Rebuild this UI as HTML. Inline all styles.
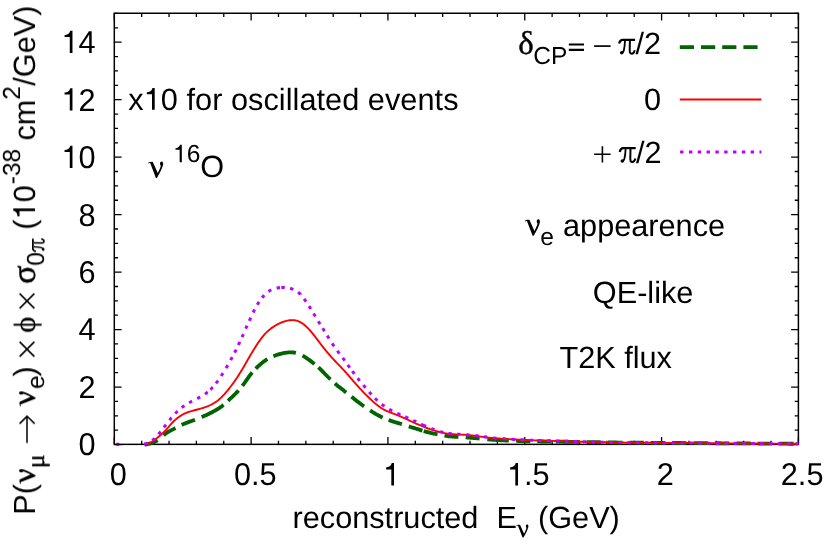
<!DOCTYPE html>
<html><head><meta charset="utf-8"><title>chart</title>
<style>
html,body{margin:0;padding:0;background:#fff;}
body{width:830px;height:548px;overflow:hidden;font-family:"Liberation Sans", sans-serif;}
svg{display:block;}
svg text{text-rendering:geometricPrecision;font-kerning:none;}
</style></head>
<body>
<svg width="830" height="548" viewBox="0 0 830 548">
<rect x="0" y="0" width="830" height="548" fill="#fff"/>
<defs>
<path id="nu" d="M-0.1,-14.6 L1.7,-15.5 L4.5,-15.6 L9.6,-4.4 C10.6,-6.3 11.8,-9 12.6,-11.5 C12.0,-12.2 11.8,-13.2 11.8,-14.0 C11.8,-15.2 12.5,-16.0 13.5,-16.0 C14.5,-16.0 15.1,-15.0 15.0,-13.6 C14.8,-10.5 12,-5 8.8,0.5 L7.7,0.5 L2.0,-14.3 C1.3,-14.5 0.6,-14.3 0.1,-13.9 Z" fill="#000"/>
<g id="pi" fill="none" stroke="#000"><path d="M0.3,-10.7 C0.9,-13.2 2.0,-14.4 3.8,-14.4 L16.3,-14.4" stroke-width="2.2"/><path d="M6.2,-13.5 C6.0,-9 5.6,-6 5.0,-3.8 C4.6,-2.3 4.0,-1.6 3.0,-1.3" stroke-width="1.8"/><circle cx="2.9" cy="-1.5" r="1.75" fill="#000" stroke="none"/><path d="M11.1,-13.5 L10.9,-4.5 C10.8,-1.5 11.5,-0.5 12.9,-0.5 C14.3,-0.5 15.4,-1.8 16.0,-4.0" stroke-width="2.0"/></g>
<path id="one" d="M359,0 L271,0 L271,505 L101,505 L101,568 C190,575 262,612 286,709 L359,709 Z" fill="#000"/>
</defs>
<path d="M114.30,444.35 v-7.3 M114.30,13.25 v7.3 M141.66,444.35 v-3.7 M141.66,13.25 v3.7 M169.03,444.35 v-3.7 M169.03,13.25 v3.7 M196.39,444.35 v-3.7 M196.39,13.25 v3.7 M223.76,444.35 v-3.7 M223.76,13.25 v3.7 M251.12,444.35 v-7.3 M251.12,13.25 v7.3 M278.48,444.35 v-3.7 M278.48,13.25 v3.7 M305.85,444.35 v-3.7 M305.85,13.25 v3.7 M333.21,444.35 v-3.7 M333.21,13.25 v3.7 M360.58,444.35 v-3.7 M360.58,13.25 v3.7 M387.94,444.35 v-7.3 M387.94,13.25 v7.3 M415.30,444.35 v-3.7 M415.30,13.25 v3.7 M442.67,444.35 v-3.7 M442.67,13.25 v3.7 M470.03,444.35 v-3.7 M470.03,13.25 v3.7 M497.40,444.35 v-3.7 M497.40,13.25 v3.7 M524.76,444.35 v-7.3 M524.76,13.25 v7.3 M552.12,444.35 v-3.7 M552.12,13.25 v3.7 M579.49,444.35 v-3.7 M579.49,13.25 v3.7 M606.85,444.35 v-3.7 M606.85,13.25 v3.7 M634.22,444.35 v-3.7 M634.22,13.25 v3.7 M661.58,444.35 v-7.3 M661.58,13.25 v7.3 M688.94,444.35 v-3.7 M688.94,13.25 v3.7 M716.31,444.35 v-3.7 M716.31,13.25 v3.7 M743.67,444.35 v-3.7 M743.67,13.25 v3.7 M771.04,444.35 v-3.7 M771.04,13.25 v3.7 M798.40,444.35 v-7.3 M798.40,13.25 v7.3 M114.3,444.55 h7.3 M798.4,444.55 h-7.3 M114.3,430.18 h3.7 M798.4,430.18 h-3.7 M114.3,415.81 h3.7 M798.4,415.81 h-3.7 M114.3,401.44 h3.7 M798.4,401.44 h-3.7 M114.3,387.07 h7.3 M798.4,387.07 h-7.3 M114.3,372.70 h3.7 M798.4,372.70 h-3.7 M114.3,358.33 h3.7 M798.4,358.33 h-3.7 M114.3,343.96 h3.7 M798.4,343.96 h-3.7 M114.3,329.59 h7.3 M798.4,329.59 h-7.3 M114.3,315.22 h3.7 M798.4,315.22 h-3.7 M114.3,300.85 h3.7 M798.4,300.85 h-3.7 M114.3,286.48 h3.7 M798.4,286.48 h-3.7 M114.3,272.11 h7.3 M798.4,272.11 h-7.3 M114.3,257.74 h3.7 M798.4,257.74 h-3.7 M114.3,243.37 h3.7 M798.4,243.37 h-3.7 M114.3,229.00 h3.7 M798.4,229.00 h-3.7 M114.3,214.63 h7.3 M798.4,214.63 h-7.3 M114.3,200.26 h3.7 M798.4,200.26 h-3.7 M114.3,185.89 h3.7 M798.4,185.89 h-3.7 M114.3,171.52 h3.7 M798.4,171.52 h-3.7 M114.3,157.15 h7.3 M798.4,157.15 h-7.3 M114.3,142.78 h3.7 M798.4,142.78 h-3.7 M114.3,128.41 h3.7 M798.4,128.41 h-3.7 M114.3,114.04 h3.7 M798.4,114.04 h-3.7 M114.3,99.67 h7.3 M798.4,99.67 h-7.3 M114.3,85.30 h3.7 M798.4,85.30 h-3.7 M114.3,70.93 h3.7 M798.4,70.93 h-3.7 M114.3,56.56 h3.7 M798.4,56.56 h-3.7 M114.3,42.19 h7.3 M798.4,42.19 h-7.3 M114.3,27.82 h3.7 M798.4,27.82 h-3.7 M114.3,13.45 h3.7 M798.4,13.45 h-3.7" stroke="#000" stroke-width="1.3" fill="none"/>
<rect x="114.3" y="13.25" width="684.1" height="431.1" fill="none" stroke="#000" stroke-width="1.5"/>
<path d="M144.6,444.64 L145.5,444.53 L146.5,444.38 L147.5,444.18 L148.5,443.95 L149.5,443.70 L150.5,443.41 L151.5,443.10 L152.5,442.75 L153.5,442.37 L154.5,441.93 L155.5,441.43 L156.5,440.85 L157.5,440.20 M163.5,435.30 L164.5,434.48 L165.5,433.71 L166.5,433.00 L167.5,432.34 L168.5,431.73 L169.5,431.16 L170.5,430.62 L171.5,430.10 L172.5,429.58 L173.5,429.08 L174.5,428.57 L175.5,428.06 M181.7,424.91 L182.5,424.54 L183.5,424.10 L184.5,423.67 L185.5,423.27 L186.5,422.88 L187.5,422.51 L188.5,422.14 L189.5,421.77 L190.5,421.41 L191.5,421.05 L192.5,420.69 L193.5,420.32 L194.5,419.95 L195.0,419.76 M201.6,417.10 L202.5,416.72 L203.5,416.30 L204.5,415.87 L205.5,415.42 L206.5,414.97 L207.5,414.51 L208.5,414.03 L209.5,413.54 L210.5,413.03 L211.5,412.52 L212.5,411.99 L213.5,411.45 L214.5,410.89 L215.5,410.32 L216.5,409.74 L217.5,409.14 L218.5,408.52 L219.5,407.87 L220.5,407.18 L221.5,406.44 L222.5,405.65 L223.5,404.81 M228.0,400.76 L228.5,400.30 L229.5,399.37 L230.5,398.45 L231.5,397.54 L232.5,396.62 L233.5,395.68 L234.5,394.72 L235.5,393.72 L236.5,392.69 L237.5,391.62 L238.5,390.52 M242.4,385.84 L242.5,385.71 L243.5,384.37 L244.5,382.99 L245.5,381.58 L246.5,380.15 L247.5,378.73 L248.5,377.32 L249.5,375.94 L250.5,374.61 L251.5,373.33 L252.2,372.50 M255.7,368.70 L256.5,367.90 L257.5,366.93 L258.5,365.99 L259.5,365.08 L260.5,364.20 L261.5,363.35 L262.5,362.53 L263.5,361.76 L264.5,361.02 L265.5,360.33 L266.5,359.69 L267.4,359.15 M273.4,356.26 L273.5,356.22 L274.5,355.81 L275.5,355.43 L276.5,355.06 L277.5,354.71 L278.5,354.38 L279.5,354.08 L280.5,353.80 L281.5,353.55 L282.5,353.32 L283.5,353.12 L284.5,352.94 L285.5,352.79 L286.5,352.66 L287.5,352.56 L288.5,352.48 L289.5,352.42 L290.5,352.39 L291.5,352.38 L292.5,352.41 L293.5,352.48 L294.5,352.60 L295.5,352.77 L295.9,352.86 M302.5,355.53 L303.5,356.12 L304.5,356.75 L305.5,357.39 L306.5,358.05 L307.5,358.73 L308.5,359.44 L309.5,360.15 L310.5,360.88 L311.5,361.63 L312.5,362.39 L313.5,363.17 L314.5,363.97 M318.4,367.38 L318.5,367.47 L319.5,368.42 L320.5,369.39 L321.5,370.39 L322.5,371.40 L323.5,372.42 L324.5,373.45 L325.5,374.48 L326.5,375.51 L327.5,376.52 L328.5,377.53 L329.5,378.51 L330.4,379.38 M334.9,383.48 L335.5,384.00 L336.5,384.85 L337.5,385.67 L338.5,386.47 L339.5,387.26 L340.5,388.04 L341.5,388.82 L342.5,389.59 L343.5,390.37 L344.5,391.15 L345.5,391.93 L346.2,392.48 M351.5,396.73 L352.5,397.53 L353.5,398.34 L354.5,399.15 L355.5,399.95 L356.5,400.75 L357.5,401.54 L358.5,402.32 L359.5,403.08 L360.5,403.83 L361.5,404.57 L362.5,405.29 L363.5,405.99 L364.1,406.41 M370.1,410.45 L370.5,410.71 L371.5,411.36 L372.5,412.00 L373.5,412.62 L374.5,413.23 L375.5,413.83 L376.5,414.40 L377.5,414.96 L378.5,415.50 L379.5,416.02 L380.5,416.53 L381.5,417.01 L382.5,417.48 L382.7,417.57 M388.6,419.99 L389.5,420.31 L390.5,420.66 L391.5,421.00 L392.5,421.33 L393.5,421.65 L394.5,421.96 L395.5,422.27 L396.5,422.57 L397.5,422.87 L398.5,423.18 L399.5,423.48 L400.5,423.79 L401.5,424.10 L401.9,424.23 M408.8,426.43 L409.5,426.65 L410.5,426.96 L411.5,427.26 L412.5,427.56 L413.5,427.86 L414.5,428.17 L415.5,428.48 L416.5,428.79 L417.5,429.11 L418.5,429.43 L419.5,429.75 L420.5,430.07 L421.5,430.38 L422.4,430.66 M423.7,431.05 L424.5,431.29 L425.5,431.57 L426.5,431.84 L427.5,432.11 L428.5,432.36 L429.5,432.61 L430.5,432.84 L431.5,433.08 L432.5,433.30 L433.5,433.52 L434.5,433.73 L435.5,433.94 L436.5,434.14 L437.5,434.34 M444.5,435.66 L445.5,435.82 L446.5,435.97 L447.5,436.12 L448.5,436.24 L449.5,436.36 L450.5,436.46 L451.5,436.55 L452.5,436.63 L453.5,436.70 L454.5,436.77 L455.5,436.83 L456.5,436.89 L457.5,436.94 L458.4,436.99 M465.7,437.41 L466.5,437.48 L467.5,437.56 L468.5,437.64 L469.5,437.73 L470.5,437.81 L471.5,437.90 L472.5,437.98 L473.5,438.06 L474.5,438.14 L475.5,438.22 L476.5,438.29 L477.5,438.37 L478.5,438.45 L479.5,438.53 L479.6,438.54 M487.3,439.32 L487.5,439.34 L488.5,439.44 L489.5,439.53 L490.5,439.62 L491.5,439.70 L492.5,439.77 L493.5,439.84 L494.5,439.91 L495.5,439.97 L496.5,440.03 L497.5,440.09 L498.5,440.15 L499.5,440.21 L500.5,440.26 L501.5,440.31 L502.5,440.37 L503.5,440.41 L504.5,440.46 L505.5,440.51 L506.5,440.55 L507.5,440.59 L508.5,440.64 L508.8,440.65 M516.1,440.92 L516.5,440.93 L517.5,440.97 L518.5,441.00 L519.5,441.03 L520.5,441.06 L521.5,441.09 L522.5,441.12 L523.5,441.14 L524.5,441.17 L525.5,441.20 L526.5,441.22 L527.5,441.24 L528.5,441.27 L529.5,441.29 L530.3,441.30 M537.2,441.43 L537.5,441.43 L538.5,441.45 L539.5,441.46 L540.5,441.48 L541.5,441.49 L542.5,441.50 L543.5,441.52 L544.5,441.53 L545.5,441.54 L546.5,441.56 L547.5,441.57 L548.5,441.58 L549.5,441.59 L550.5,441.60 L551.1,441.61 M555.8,441.66 L556.5,441.67 L557.5,441.68 L558.5,441.69 L559.5,441.70 L560.5,441.70 L561.5,441.71 L562.5,441.72 L563.5,441.73 L564.5,441.74 L565.5,441.75 L566.5,441.76 L567.5,441.77 L568.5,441.78 L569.5,441.80 L570.5,441.81 L571.5,441.82 L572.5,441.83 L573.5,441.85 L574.5,441.86 L575.5,441.87 L576.5,441.89 L577.5,441.90 L578.5,441.92 L579.5,441.93 L579.6,441.93 M586.5,442.04 L587.5,442.05 L588.5,442.07 L589.5,442.09 L590.5,442.10 L591.5,442.12 L592.5,442.14 L593.5,442.15 L594.5,442.17 L595.5,442.19 L596.5,442.21 L597.5,442.23 L598.5,442.25 L599.5,442.26 L600.5,442.28 L601.0,442.29 M607.9,442.41 L608.5,442.42 L609.5,442.43 L610.5,442.45 L611.5,442.46 L612.5,442.47 L613.5,442.49 L614.5,442.50 L615.5,442.51 L616.5,442.52 L617.5,442.53 L618.5,442.54 L619.5,442.55 L620.5,442.56 L621.5,442.57 L622.4,442.58 M629.3,442.64 L629.5,442.65 L630.5,442.65 L631.5,442.66 L632.5,442.67 L633.5,442.68 L634.5,442.69 L635.5,442.70 L636.5,442.70 L637.5,442.71 L638.5,442.72 L639.5,442.73 L640.5,442.74 L641.5,442.74 L642.5,442.75 L643.5,442.76 L643.8,442.76 M650.7,442.81 L651.5,442.81 L652.5,442.82 L653.5,442.83 L654.5,442.83 L655.5,442.84 L656.5,442.85 L657.5,442.85 L658.5,442.86 L659.5,442.87 L660.5,442.87 L661.5,442.88 L662.5,442.89 L663.5,442.89 L664.5,442.90 L665.2,442.90 M672.1,442.95 L672.5,442.95 L673.5,442.96 L674.5,442.96 L675.5,442.97 L676.5,442.98 L677.5,442.98 L678.5,442.99 L679.5,443.00 L680.5,443.00 L681.5,443.01 L682.5,443.02 L683.5,443.02 L684.5,443.03 L685.5,443.04 L686.5,443.04 L686.6,443.04 M693.5,443.09 L693.5,443.09 L694.5,443.10 L695.5,443.10 L696.5,443.11 L697.5,443.12 L698.5,443.12 L699.5,443.13 L700.5,443.14 L701.5,443.14 L702.5,443.15 L703.5,443.16 L704.5,443.16 L705.5,443.17 L706.5,443.18 L707.5,443.18 L708.0,443.19 M714.9,443.23 L715.5,443.24 L716.5,443.24 L717.5,443.25 L718.5,443.26 L719.5,443.26 L720.5,443.27 L721.5,443.28 L722.5,443.28 L723.5,443.29 L724.5,443.30 L725.5,443.30 L726.5,443.31 L727.5,443.32 L728.5,443.32 L729.4,443.33 M736.3,443.38 L736.5,443.38 L737.5,443.38 L738.5,443.39 L739.5,443.40 L740.5,443.40 L741.5,443.41 L742.5,443.42 L743.5,443.42 L744.5,443.43 L745.5,443.44 L746.5,443.44 L747.5,443.45 L748.5,443.46 L749.5,443.46 L750.5,443.47 L750.8,443.47 M757.7,443.52 L758.5,443.53 L759.5,443.53 L760.5,443.54 L761.5,443.55 L762.5,443.55 L763.5,443.56 L764.5,443.57 L765.5,443.57 L766.5,443.58 L767.5,443.59 L768.5,443.59 L769.5,443.60 L770.5,443.61 L771.5,443.61 L772.2,443.62 M779.1,443.67 L779.5,443.67 L780.5,443.68 L781.5,443.68 L782.5,443.69 L783.5,443.70 L784.5,443.70 L785.5,443.71 L786.5,443.72 L787.5,443.72 L788.5,443.73 L789.5,443.74 L790.5,443.75 L791.5,443.75 L792.5,443.76 L793.5,443.77 L793.6,443.77" fill="none" stroke="#006400" stroke-width="3.8" stroke-linejoin="round"/>
<path d="M145.5,444.12 L146.5,443.96 L147.5,443.72 L148.5,443.41 L149.5,443.01 L150.5,442.52 L151.5,441.98 L152.5,441.37 L153.5,440.70 L154.5,439.99 L155.5,439.23 L156.5,438.44 L157.5,437.64 L158.5,436.83 L159.5,436.00 L160.5,435.16 L161.5,434.30 L162.5,433.41 L163.5,432.47 L164.5,431.47 L165.5,430.42 L166.5,429.32 L167.5,428.19 L168.5,427.04 L169.5,425.89 L170.5,424.73 L171.5,423.60 L172.5,422.51 L173.5,421.48 L174.5,420.52 L175.5,419.62 L176.5,418.78 L177.5,417.98 L178.5,417.23 L179.5,416.53 L180.5,415.87 L181.5,415.25 L182.5,414.68 L183.5,414.14 L184.5,413.64 L185.5,413.18 L186.5,412.76 L187.5,412.37 L188.5,412.01 L189.5,411.68 L190.5,411.37 L191.5,411.08 L192.5,410.80 L193.5,410.53 L194.5,410.26 L195.5,410.00 L196.5,409.74 L197.5,409.48 L198.5,409.21 L199.5,408.94 L200.5,408.67 L201.5,408.38 L202.5,408.08 L203.5,407.77 L204.5,407.44 L205.5,407.09 L206.5,406.72 L207.5,406.32 L208.5,405.91 L209.5,405.47 L210.5,405.00 L211.5,404.50 L212.5,403.96 L213.5,403.39 L214.5,402.79 L215.5,402.14 L216.5,401.45 L217.5,400.71 L218.5,399.91 L219.5,399.06 L220.5,398.16 L221.5,397.20 L222.5,396.20 L223.5,395.15 L224.5,394.06 L225.5,392.92 L226.5,391.75 L227.5,390.55 L228.5,389.32 L229.5,388.06 L230.5,386.78 L231.5,385.46 L232.5,384.12 L233.5,382.74 L234.5,381.34 L235.5,379.90 L236.5,378.43 L237.5,376.93 L238.5,375.39 L239.5,373.82 L240.5,372.22 L241.5,370.58 L242.5,368.92 L243.5,367.22 L244.5,365.50 L245.5,363.76 L246.5,362.01 L247.5,360.26 L248.5,358.52 L249.5,356.78 L250.5,355.05 L251.5,353.36 L252.5,351.69 L253.5,350.06 L254.5,348.46 L255.5,346.88 L256.5,345.32 L257.5,343.79 L258.5,342.30 L259.5,340.85 L260.5,339.45 L261.5,338.11 L262.5,336.82 L263.5,335.60 L264.5,334.45 L265.5,333.37 L266.5,332.35 L267.5,331.41 L268.5,330.51 L269.5,329.67 L270.5,328.87 L271.5,328.11 L272.5,327.39 L273.5,326.71 L274.5,326.08 L275.5,325.47 L276.5,324.91 L277.5,324.37 L278.5,323.86 L279.5,323.38 L280.5,322.92 L281.5,322.50 L282.5,322.10 L283.5,321.74 L284.5,321.41 L285.5,321.11 L286.5,320.85 L287.5,320.62 L288.5,320.43 L289.5,320.28 L290.5,320.18 L291.5,320.12 L292.5,320.12 L293.5,320.16 L294.5,320.26 L295.5,320.41 L296.5,320.64 L297.5,320.94 L298.5,321.33 L299.5,321.78 L300.5,322.30 L301.5,322.89 L302.5,323.54 L303.5,324.27 L304.5,325.07 L305.5,325.93 L306.5,326.84 L307.5,327.79 L308.5,328.81 L309.5,329.87 L310.5,331.00 L311.5,332.17 L312.5,333.37 L313.5,334.61 L314.5,335.88 L315.5,337.17 L316.5,338.49 L317.5,339.81 L318.5,341.13 L319.5,342.45 L320.5,343.76 L321.5,345.06 L322.5,346.34 L323.5,347.62 L324.5,348.87 L325.5,350.11 L326.5,351.33 L327.5,352.54 L328.5,353.73 L329.5,354.91 L330.5,356.07 L331.5,357.21 L332.5,358.32 L333.5,359.41 L334.5,360.48 L335.5,361.53 L336.5,362.57 L337.5,363.59 L338.5,364.62 L339.5,365.64 L340.5,366.68 L341.5,367.72 L342.5,368.78 L343.5,369.86 L344.5,370.95 L345.5,372.06 L346.5,373.18 L347.5,374.31 L348.5,375.46 L349.5,376.61 L350.5,377.77 L351.5,378.93 L352.5,380.10 L353.5,381.27 L354.5,382.43 L355.5,383.58 L356.5,384.73 L357.5,385.86 L358.5,386.97 L359.5,388.07 L360.5,389.16 L361.5,390.22 L362.5,391.27 L363.5,392.30 L364.5,393.32 L365.5,394.32 L366.5,395.32 L367.5,396.30 L368.5,397.28 L369.5,398.25 L370.5,399.21 L371.5,400.15 L372.5,401.08 L373.5,401.98 L374.5,402.86 L375.5,403.72 L376.5,404.54 L377.5,405.34 L378.5,406.10 L379.5,406.82 L380.5,407.51 L381.5,408.17 L382.5,408.79 L383.5,409.36 L384.5,409.90 L385.5,410.40 L386.5,410.87 L387.5,411.30 L388.5,411.72 L389.5,412.12 L390.5,412.51 L391.5,412.90 L392.5,413.28 L393.5,413.66 L394.5,414.04 L395.5,414.43 L396.5,414.81 L397.5,415.21 L398.5,415.61 L399.5,416.02 L400.5,416.44 L401.5,416.87 L402.5,417.31 L403.5,417.76 L404.5,418.22 L405.5,418.68 L406.5,419.15 L407.5,419.62 L408.5,420.09 L409.5,420.56 L410.5,421.03 L411.5,421.49 L412.5,421.96 L413.5,422.41 L414.5,422.87 L415.5,423.32 L416.5,423.77 L417.5,424.21 L418.5,424.64 L419.5,425.07 L420.5,425.49 L421.5,425.91 L422.5,426.32 L423.5,426.72 L424.5,427.12 L425.5,427.51 L426.5,427.89 L427.5,428.26 L428.5,428.63 L429.5,428.98 L430.5,429.33 L431.5,429.67 L432.5,430.00 L433.5,430.33 L434.5,430.64 L435.5,430.94 L436.5,431.23 L437.5,431.51 L438.5,431.78 L439.5,432.04 L440.5,432.28 L441.5,432.52 L442.5,432.74 L443.5,432.94 L444.5,433.13 L445.5,433.31 L446.5,433.47 L447.5,433.61 L448.5,433.74 L449.5,433.86 L450.5,433.96 L451.5,434.05 L452.5,434.13 L453.5,434.20 L454.5,434.27 L455.5,434.33 L456.5,434.39 L457.5,434.44 L458.5,434.50 L459.5,434.55 L460.5,434.60 L461.5,434.65 L462.5,434.70 L463.5,434.76 L464.5,434.82 L465.5,434.89 L466.5,434.96 L467.5,435.04 L468.5,435.13 L469.5,435.22 L470.5,435.31 L471.5,435.42 L472.5,435.53 L473.5,435.64 L474.5,435.77 L475.5,435.90 L476.5,436.03 L477.5,436.16 L478.5,436.30 L479.5,436.44 L480.5,436.58 L481.5,436.72 L482.5,436.86 L483.5,436.99 L484.5,437.13 L485.5,437.26 L486.5,437.38 L487.5,437.50 L488.5,437.62 L489.5,437.72 L490.5,437.83 L491.5,437.92 L492.5,438.01 L493.5,438.10 L494.5,438.18 L495.5,438.26 L496.5,438.33 L497.5,438.41 L498.5,438.48 L499.5,438.55 L500.5,438.61 L501.5,438.68 L502.5,438.74 L503.5,438.81 L504.5,438.87 L505.5,438.93 L506.5,438.99 L507.5,439.05 L508.5,439.11 L509.5,439.16 L510.5,439.22 L511.5,439.28 L512.5,439.34 L513.5,439.39 L514.5,439.45 L515.5,439.50 L516.5,439.56 L517.5,439.61 L518.5,439.66 L519.5,439.72 L520.5,439.77 L521.5,439.82 L522.5,439.86 L523.5,439.91 L524.5,439.96 L525.5,440.00 L526.5,440.05 L527.5,440.09 L528.5,440.13 L529.5,440.17 L530.5,440.21 L531.5,440.24 L532.5,440.28 L533.5,440.31 L534.5,440.34 L535.5,440.38 L536.5,440.41 L537.5,440.44 L538.5,440.47 L539.5,440.50 L540.5,440.52 L541.5,440.55 L542.5,440.58 L543.5,440.61 L544.5,440.64 L545.5,440.66 L546.5,440.69 L547.5,440.72 L548.5,440.75 L549.5,440.78 L550.5,440.81 L551.5,440.84 L552.5,440.87 L553.5,440.90 L554.5,440.93 L555.5,440.96 L556.5,440.98 L557.5,441.01 L558.5,441.04 L559.5,441.07 L560.5,441.10 L561.5,441.13 L562.5,441.16 L563.5,441.19 L564.5,441.22 L565.5,441.25 L566.5,441.28 L567.5,441.31 L568.5,441.34 L569.5,441.37 L570.5,441.40 L571.5,441.43 L572.5,441.47 L573.5,441.50 L574.5,441.53 L575.5,441.56 L576.5,441.59 L577.5,441.62 L578.5,441.65 L579.5,441.69 L580.5,441.72 L581.5,441.75 L582.5,441.78 L583.5,441.81 L584.5,441.84 L585.5,441.87 L586.5,441.90 L587.5,441.92 L588.5,441.95 L589.5,441.98 L590.5,442.00 L591.5,442.02 L592.5,442.05 L593.5,442.07 L594.5,442.09 L595.5,442.12 L596.5,442.14 L597.5,442.16 L598.5,442.18 L599.5,442.20 L600.5,442.22 L601.5,442.24 L602.5,442.26 L603.5,442.28 L604.5,442.30 L605.5,442.32 L606.5,442.33 L607.5,442.35 L608.5,442.37 L609.5,442.38 L610.5,442.40 L611.5,442.41 L612.5,442.43 L613.5,442.44 L614.5,442.46 L615.5,442.47 L616.5,442.48 L617.5,442.50 L618.5,442.51 L619.5,442.52 L620.5,442.54 L621.5,442.55 L622.5,442.56 L623.5,442.57 L624.5,442.58 L625.5,442.59 L626.5,442.61 L627.5,442.62 L628.5,442.63 L629.5,442.64 L630.5,442.65 L631.5,442.66 L632.5,442.67 L633.5,442.68 L634.5,442.69 L635.5,442.69 L636.5,442.70 L637.5,442.71 L638.5,442.72 L639.5,442.73 L640.5,442.74 L641.5,442.75 L642.5,442.75 L643.5,442.76 L644.5,442.77 L645.5,442.78 L646.5,442.78 L647.5,442.79 L648.5,442.80 L649.5,442.81 L650.5,442.81 L651.5,442.82 L652.5,442.83 L653.5,442.83 L654.5,442.84 L655.5,442.85 L656.5,442.85 L657.5,442.86 L658.5,442.86 L659.5,442.87 L660.5,442.88 L661.5,442.88 L662.5,442.89 L663.5,442.90 L664.5,442.90 L665.5,442.91 L666.5,442.91 L667.5,442.92 L668.5,442.93 L669.5,442.93 L670.5,442.94 L671.5,442.95 L672.5,442.95 L673.5,442.96 L674.5,442.96 L675.5,442.97 L676.5,442.98 L677.5,442.98 L678.5,442.99 L679.5,443.00 L680.5,443.00 L681.5,443.01 L682.5,443.02 L683.5,443.02 L684.5,443.03 L685.5,443.04 L686.5,443.04 L687.5,443.05 L688.5,443.06 L689.5,443.06 L690.5,443.07 L691.5,443.08 L692.5,443.08 L693.5,443.09 L694.5,443.10 L695.5,443.10 L696.5,443.11 L697.5,443.12 L698.5,443.12 L699.5,443.13 L700.5,443.14 L701.5,443.14 L702.5,443.15 L703.5,443.16 L704.5,443.16 L705.5,443.17 L706.5,443.18 L707.5,443.18 L708.5,443.19 L709.5,443.20 L710.5,443.20 L711.5,443.21 L712.5,443.22 L713.5,443.22 L714.5,443.23 L715.5,443.24 L716.5,443.24 L717.5,443.25 L718.5,443.26 L719.5,443.26 L720.5,443.27 L721.5,443.28 L722.5,443.28 L723.5,443.29 L724.5,443.30 L725.5,443.30 L726.5,443.31 L727.5,443.32 L728.5,443.32 L729.5,443.33 L730.5,443.34 L731.5,443.34 L732.5,443.35 L733.5,443.36 L734.5,443.36 L735.5,443.37 L736.5,443.38 L737.5,443.38 L738.5,443.39 L739.5,443.40 L740.5,443.40 L741.5,443.41 L742.5,443.42 L743.5,443.42 L744.5,443.43 L745.5,443.44 L746.5,443.44 L747.5,443.45 L748.5,443.46 L749.5,443.46 L750.5,443.47 L751.5,443.48 L752.5,443.48 L753.5,443.49 L754.5,443.50 L755.5,443.51 L756.5,443.51 L757.5,443.52 L758.5,443.53 L759.5,443.53 L760.5,443.54 L761.5,443.55 L762.5,443.55 L763.5,443.56 L764.5,443.57 L765.5,443.57 L766.5,443.58 L767.5,443.59 L768.5,443.59 L769.5,443.60 L770.5,443.61 L771.5,443.61 L772.5,443.62 L773.5,443.63 L774.5,443.64 L775.5,443.64 L776.5,443.65 L777.5,443.66 L778.5,443.66 L779.5,443.67 L780.5,443.68 L781.5,443.68 L782.5,443.69 L783.5,443.70 L784.5,443.70 L785.5,443.71 L786.5,443.72 L787.5,443.72 L788.5,443.73 L789.5,443.74 L790.5,443.75 L791.5,443.75 L792.5,443.76 L793.5,443.77 L794.5,443.77 L795.5,443.78 L796.5,443.78 L797.5,443.79 L798.4,443.79" fill="none" stroke="#ff0000" stroke-width="1.9" stroke-linejoin="round"/>
<path d="M144.2,444.08 L144.5,444.04 L145.5,443.84 L146.5,443.58 L147.4,443.25 M152.2,440.48 L152.5,440.25 L153.5,439.42 L154.5,438.51 L154.8,438.22 M158.5,434.26 L159.5,433.10 L160.5,431.86 L160.7,431.65 M163.9,427.44 L164.5,426.62 L165.5,425.28 L165.9,424.73 M169.4,420.20 L169.5,420.11 L170.5,418.87 L171.5,417.66 L171.6,417.58 M175.2,413.51 L175.5,413.20 L176.5,412.19 L177.5,411.22 L177.6,411.13 M181.7,407.64 L182.5,407.05 L183.5,406.33 L184.5,405.65 M189.1,402.80 L189.5,402.57 L190.5,402.02 L191.5,401.49 L192.1,401.18 M197.2,398.62 L197.5,398.47 L198.5,397.95 L199.5,397.41 L200.2,397.03 M204.9,394.11 L205.5,393.71 L206.5,392.97 L207.5,392.19 L207.7,392.05 M210.4,389.59 L210.5,389.53 L211.5,388.53 L212.5,387.47 L212.8,387.17 M216.0,383.36 L216.5,382.70 L217.5,381.36 L218.0,380.64 M221.2,375.97 L221.5,375.50 L222.5,373.92 L223.0,373.10 M226.0,368.12 L226.5,367.35 L227.5,365.65 L227.8,365.19 M230.6,360.16 L231.5,358.49 L232.2,357.16 M234.6,352.63 L235.5,350.93 L236.2,349.57 M238.4,345.00 L238.5,344.75 L239.5,342.60 L239.8,341.92 M242.0,337.13 L242.5,336.05 L243.4,334.04 M245.7,328.73 L246.5,326.95 L247.1,325.64 M249.3,320.76 L249.5,320.31 L250.5,318.11 L250.7,317.67 M253.1,312.52 L253.5,311.76 L254.5,309.79 L254.7,309.47 M257.3,304.72 L257.5,304.40 L258.5,302.77 L259.1,301.87 M262.1,297.71 L262.5,297.21 L263.5,296.03 L264.3,295.15 M268.4,291.52 L268.5,291.47 L269.5,290.81 L270.5,290.23 L271.4,289.79 M276.6,288.09 L277.5,287.92 L278.5,287.75 L279.5,287.62 L280.0,287.58 M281.3,287.48 L281.5,287.47 L282.5,287.44 L283.5,287.44 L284.5,287.48 L284.7,287.50 M290.1,288.32 L290.5,288.42 L291.5,288.71 L292.5,289.05 L293.3,289.37 M298.1,292.13 L298.5,292.49 L299.5,293.41 L300.5,294.44 L300.5,294.49 M304.0,298.79 L304.5,299.44 L305.5,300.87 L306.0,301.57 M309.0,306.11 L309.5,306.90 L310.5,308.46 L310.8,308.97 M313.6,313.55 L314.5,315.01 L315.4,316.47 M318.3,321.26 L318.5,321.59 L319.5,323.19 L320.1,324.14 M322.7,328.26 L323.5,329.53 L324.5,331.13 L324.5,331.13 M327.2,335.56 L327.5,336.02 L328.5,337.67 L329.0,338.45 M332.1,343.42 L332.5,343.96 L333.5,345.43 L334.1,346.23 M337.4,350.80 L337.5,350.97 L338.5,352.30 L339.4,353.52 M342.7,357.88 L343.5,358.98 L344.5,360.34 L344.7,360.62 M347.8,364.92 L348.5,365.88 L349.5,367.27 L349.8,367.68 M352.3,371.12 L352.5,371.41 L353.5,372.76 L354.3,373.85 M357.6,378.18 L358.5,379.27 L359.5,380.51 L359.8,380.84 M363.3,385.09 L363.5,385.33 L364.5,386.51 L365.5,387.68 M369.2,391.97 L369.5,392.34 L370.5,393.48 L371.4,394.51 M375.0,398.27 L375.5,398.79 L376.5,399.76 L377.4,400.63 M381.7,404.27 L382.5,404.86 L383.5,405.59 L384.5,406.27 M389.2,409.23 L389.5,409.40 L390.5,409.96 L391.5,410.50 L392.2,410.87 M397.2,413.38 L397.5,413.50 L398.5,413.95 L399.5,414.40 L400.4,414.77 M405.1,416.82 L405.5,416.97 L406.5,417.40 L407.5,417.83 L408.3,418.16 M413.2,420.34 L413.5,420.50 L414.5,420.96 L415.5,421.44 L416.2,421.79 M421.0,424.11 L421.5,424.36 L422.5,424.83 L423.5,425.29 L424.5,425.74 L425.5,426.17 L426.1,426.42 M431.3,428.48 L431.5,428.55 L432.5,428.93 L433.5,429.29 L434.5,429.65 M440.1,431.47 L440.5,431.60 L441.5,431.87 L442.5,432.13 L443.3,432.34 M448.5,433.36 L449.5,433.51 L450.5,433.64 L451.5,433.75 L451.9,433.79 M457.1,434.21 L457.5,434.23 L458.5,434.30 L459.5,434.36 L460.5,434.42 M466.3,434.77 L466.5,434.78 L467.5,434.85 L468.5,434.92 L469.5,435.00 L469.7,435.02 M475.3,435.57 L475.5,435.59 L476.5,435.71 L477.5,435.84 L478.5,435.97 L478.7,435.99 M483.9,436.74 L484.5,436.83 L485.5,436.97 L486.5,437.11 L487.3,437.22 M493.2,437.91 L493.5,437.94 L494.5,438.04 L495.5,438.13 L496.5,438.22 L496.6,438.22 M502.9,438.72 L503.5,438.76 L504.5,438.83 L505.5,438.90 L506.3,438.95 M511.7,439.29 L512.5,439.34 L513.5,439.40 L514.5,439.46 L515.1,439.49 M520.6,439.78 L521.5,439.82 L522.5,439.87 L523.5,439.92 L524.0,439.94 M529.6,440.17 L530.5,440.21 L531.5,440.24 L532.5,440.28 L533.0,440.29 M538.2,440.46 L538.5,440.47 L539.5,440.50 L540.5,440.52 L541.5,440.55 L541.6,440.56 M547.2,440.71 L547.5,440.72 L548.5,440.75 L549.5,440.78 L550.5,440.81 L550.6,440.81 M556.1,440.97 L556.5,440.98 L557.5,441.01 L558.5,441.04 L559.5,441.07 M565.0,441.24 L565.5,441.25 L566.5,441.28 L567.5,441.31 L568.4,441.34 M574.0,441.51 L574.5,441.53 L575.5,441.56 L576.5,441.59 L577.4,441.62 M582.8,441.79 L583.5,441.81 L584.5,441.84 L585.5,441.87 L586.2,441.89 M591.6,442.03 L592.5,442.05 L593.5,442.07 L594.5,442.09 L595.0,442.11 M600.5,442.22 L601.5,442.24 L602.5,442.26 L603.5,442.28 L603.9,442.29 M609.5,442.38 L610.5,442.40 L611.5,442.41 L612.5,442.43 L612.9,442.43 M618.4,442.51 L618.5,442.51 L619.5,442.52 L620.5,442.54 L621.5,442.55 L621.8,442.55 M627.2,442.61 L627.5,442.62 L628.5,442.63 L629.5,442.64 L630.5,442.65 L630.6,442.65 M636.1,442.70 L636.5,442.70 L637.5,442.71 L638.5,442.72 L639.5,442.73 M644.9,442.77 L645.5,442.78 L646.5,442.78 L647.5,442.79 L648.3,442.80 M653.8,442.83 L654.5,442.84 L655.5,442.85 L656.5,442.85 L657.2,442.86 M662.7,442.89 L663.5,442.90 L664.5,442.90 L665.5,442.91 L666.1,442.91 M671.6,442.95 L672.5,442.95 L673.5,442.96 L674.5,442.96 L674.9,442.97 M680.4,443.00 L680.5,443.00 L681.5,443.01 L682.5,443.02 L683.5,443.02 L683.8,443.03 M689.3,443.06 L689.5,443.06 L690.5,443.07 L691.5,443.08 L692.5,443.08 L692.7,443.09 M698.2,443.12 L698.5,443.12 L699.5,443.13 L700.5,443.14 L701.5,443.14 L701.6,443.14 M707.0,443.18 L707.5,443.18 L708.5,443.19 L709.5,443.20 L710.4,443.20 M715.9,443.24 L716.5,443.24 L717.5,443.25 L718.5,443.26 L719.3,443.26 M724.8,443.30 L725.5,443.30 L726.5,443.31 L727.5,443.32 L728.2,443.32 M733.6,443.36 L734.5,443.36 L735.5,443.37 L736.5,443.38 L737.0,443.38 M742.5,443.42 L743.5,443.42 L744.5,443.43 L745.5,443.44 L745.9,443.44 M751.4,443.48 L751.5,443.48 L752.5,443.48 L753.5,443.49 L754.5,443.50 L754.8,443.50 M760.3,443.54 L760.5,443.54 L761.5,443.55 L762.5,443.55 L763.5,443.56 L763.6,443.56 M769.1,443.60 L769.5,443.60 L770.5,443.61 L771.5,443.61 L772.5,443.62 L772.5,443.62 M778.0,443.66 L778.5,443.66 L779.5,443.67 L780.5,443.68 L781.4,443.68 M786.9,443.72 L787.5,443.72 L788.5,443.73 L789.5,443.74 L790.3,443.74 M795.7,443.78 L796.5,443.78 L797.5,443.79 L798.4,443.79" fill="none" stroke="#c000ff" stroke-width="3.0" stroke-linejoin="round"/>
<path d="M116.4,444.4 h2.7" stroke="#c000ff" stroke-width="3.4" fill="none"/><path d="M116,444.35 h3.6" stroke="#000" stroke-opacity="0.75" stroke-width="1.4" fill="none"/>
<path d="M679.8,47.05 H761.4" stroke="#006400" stroke-width="3.8" stroke-dasharray="14.2 7.0" fill="none"/>
<path d="M679.8,99.5 H761.4" stroke="#ff0000" stroke-width="1.9" fill="none"/>
<path d="M680.1,151.9 H761.4" stroke="#c000ff" stroke-width="3.0" stroke-dasharray="3.4 5.42" fill="none"/>
<g font-family='"Liberation Sans", sans-serif' font-size="30.7" fill="#000" opacity="0.999">
<g transform="translate(0,485.40) scale(1,1.03) translate(0,-485.40)"><text x="109.70" y="485.40" xml:space="preserve">0</text></g>
<g transform="translate(0,485.40) scale(1,1.03) translate(0,-485.40)"><text x="233.90" y="485.40" xml:space="preserve">0.5</text></g>
<g transform="translate(0,485.40) scale(1,1.03) translate(0,-485.40)"><use href="#one" transform="translate(383.00,485.40) scale(0.03070,-0.03070)"/></g>
<g transform="translate(0,485.40) scale(1,1.03) translate(0,-485.40)"><use href="#one" transform="translate(507.00,485.40) scale(0.03070,-0.03070)"/><text x="524.07" y="485.40" xml:space="preserve">.5</text></g>
<g transform="translate(0,485.40) scale(1,1.03) translate(0,-485.40)"><text x="656.70" y="485.40" xml:space="preserve">2</text></g>
<g transform="translate(0,485.40) scale(1,1.03) translate(0,-485.40)"><text x="780.80" y="485.40" xml:space="preserve">2.5</text></g>
<g transform="translate(0,455.45) scale(1,1.03) translate(0,-455.45)"><text x="78.53" y="455.45" xml:space="preserve">0</text></g>
<g transform="translate(0,397.97) scale(1,1.03) translate(0,-397.97)"><text x="78.53" y="397.97" xml:space="preserve">2</text></g>
<g transform="translate(0,340.49) scale(1,1.03) translate(0,-340.49)"><text x="78.53" y="340.49" xml:space="preserve">4</text></g>
<g transform="translate(0,283.01) scale(1,1.03) translate(0,-283.01)"><text x="78.53" y="283.01" xml:space="preserve">6</text></g>
<g transform="translate(0,225.53) scale(1,1.03) translate(0,-225.53)"><text x="78.53" y="225.53" xml:space="preserve">8</text></g>
<g transform="translate(0,168.05) scale(1,1.03) translate(0,-168.05)"><use href="#one" transform="translate(61.45,168.05) scale(0.03070,-0.03070)"/><text x="78.53" y="168.05" xml:space="preserve">0</text></g>
<g transform="translate(0,110.57) scale(1,1.03) translate(0,-110.57)"><use href="#one" transform="translate(61.45,110.57) scale(0.03070,-0.03070)"/><text x="78.53" y="110.57" xml:space="preserve">2</text></g>
<g transform="translate(0,53.09) scale(1,1.03) translate(0,-53.09)"><use href="#one" transform="translate(61.45,53.09) scale(0.03070,-0.03070)"/><text x="78.53" y="53.09" xml:space="preserve">4</text></g>
<text x="292.5" y="528.2">reconstructed</text>
<text x="496.5" y="528.2">E</text>
<use href="#nu" transform="translate(516.4,537.2) scale(0.8)"/>
<text x="538" y="528.2">(GeV)</text>
<text x="128.30" y="109.80" letter-spacing="0.04" xml:space="preserve">x</text><use href="#one" transform="translate(143.69,109.80) scale(0.03070,-0.03070)"/><text x="160.80" y="109.80" letter-spacing="0.04" xml:space="preserve">0 for oscillated events</text>
<use href="#nu" transform="translate(148.2,177.4)"/>
<use href="#one" transform="translate(173.00,162.20) scale(0.02456,-0.02456)"/><text x="186.66" y="162.20" font-size="24.56" xml:space="preserve">6</text>
<text x="200.2" y="177.4">O</text>
<use href="#nu" transform="translate(524.9,235.3)"/>
<text x="540.2" y="244.8" font-size="24.560000000000002">e</text>
<text x="563.0" y="235.5">appearence</text>
<text x="592.8" y="303.0">QE-like</text>
<text x="559.4" y="367.8">T2K flux</text>
<text x="518.2" y="54.4" font-family='"Liberation Serif", serif' font-size="32.85" stroke="#000" stroke-width="0.45">δ</text>
<text x="533.2" y="63.5" font-size="24.560000000000002">CP</text>
<path d="M568.8,44.5 H584.0 M568.8,49.8 H584.0" stroke="#000" stroke-width="2.2" fill="none"/>
<path d="M594.1,46.1 H610.6" stroke="#000" stroke-width="1.7"/>
<use href="#pi" transform="translate(618.8,54.2)"/>
<text x="635.6" y="54.2">/2</text>
<text x="661.0" y="109.6" text-anchor="end">0</text>
<path d="M594.2,154.3 H610.6 M602.4,146.2 V162.4" stroke="#000" stroke-width="1.6" fill="none"/>
<use href="#pi" transform="translate(619.4,162.6)"/>
<text x="636.0" y="162.5">/2</text>
<g transform="translate(35.0,512.3) rotate(-90)">
<text x="-2.4" y="0">P(</text>
<use href="#nu" transform="translate(28.2,0)"/>
<text x="44.0" y="9.2" font-family='"Liberation Serif", serif' font-size="25.79" stroke="#000" stroke-width="0.4">μ</text>
<path d="M69.3,-7.9 H95.6 M88.6,-15.4 L96.1,-7.9 L88.6,-0.4" stroke="#000" stroke-width="1.5" fill="none"/>
<use href="#nu" transform="translate(105.9,0)"/>
<text x="123.2" y="9.2" font-size="24.560000000000002">e</text>
<text x="135.7" y="0">)</text>
<path d="M155.7,-15.4 L170.5,-0.6 M155.7,-0.6 L170.5,-15.4" stroke="#000" stroke-width="1.6" fill="none"/>
<text x="179.6" y="0" font-family='"Liberation Serif", serif' stroke="#000" stroke-width="0.25">ϕ</text>
<path d="M203.9,-15.4 L218.7,-0.6 M203.9,-0.6 L218.7,-15.4" stroke="#000" stroke-width="1.6" fill="none"/>
<text x="228.6" y="0" font-family='"Liberation Serif", serif' font-size="33.77" stroke="#000" stroke-width="0.5">σ</text>
<text x="246.4" y="9.2" font-size="24.560000000000002">0</text>
<use href="#pi" transform="translate(260.6,9.4) scale(0.8)"/>
<text x="282.60" y="0.00" xml:space="preserve">(</text><use href="#one" transform="translate(292.82,0.00) scale(0.03070,-0.03070)"/><text x="309.90" y="0.00" xml:space="preserve">0</text>
<text x="328.0" y="-15.3" font-size="24.560000000000002">-38</text>
<text x="371.7" y="0">cm</text>
<text x="412.6" y="-15.3" font-size="24.560000000000002">2</text>
<text x="426.5" y="0">/GeV)</text>
</g>
</g>
</svg>
</body></html>
